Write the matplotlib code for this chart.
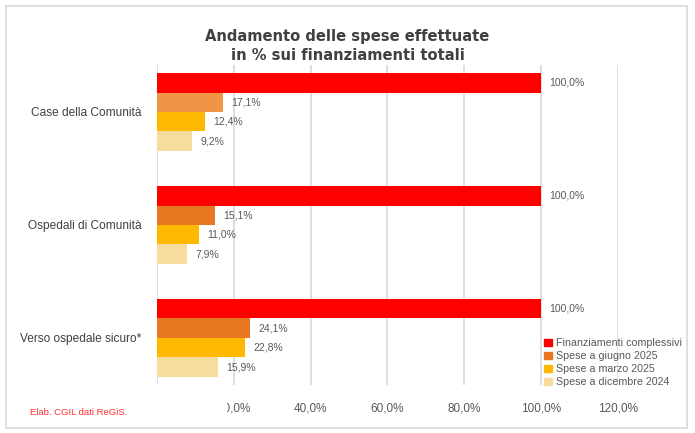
import matplotlib.pyplot as plt
import numpy as np
from matplotlib.patches import Rectangle

plt.rcParams['font.family'] = ['Liberation Sans', 'DejaVu Sans']

categories = ["Case della Comunità", "Ospedali di Comunità", "Verso ospedale sicuro*"]
series = ["Finanziamenti complessivi", "Spese a giugno 2025", "Spese a marzo 2025", "Spese a dicembre 2024"]
finanz = [100.0, 100.0, 100.0]
giugno = [17.1, 15.1, 24.1]
marzo = [12.4, 11.0, 22.8]
dicembre = [9.2, 7.9, 15.9]
xticks = [0, 20, 40, 60, 80, 100, 120]

colors = ["#FF0000", "#E87722", "#FFB900", "#F7DCA0"]
# the first group's June bar is a lighter orange in the original
giugno_colors = ["#F09446", "#E87722", "#E87722"]

fig = plt.figure(figsize=(6.95, 4.33), dpi=100)
fig.patches.append(Rectangle((0.008, 0.012), 0.98, 0.975, transform=fig.transFigure,
                             fill=False, edgecolor="#D9D9D9", linewidth=1.2))
ax = fig.add_axes([0.2259, 0.111, 0.663, 0.739])

y = np.arange(len(categories))
h = 0.172
vals = [finanz, giugno, marzo, dicembre]
for i, (name, v) in enumerate(zip(series, vals)):
    off = (i - 1.5) * h
    c = giugno_colors if i == 1 else colors[i]
    ax.barh(y + off, v, height=h, color=c, label=name, zorder=3)
    for yy, val in zip(y + off, v):
        ax.text(val + 2.2, yy, f"{val:.1f}%".replace(".", ","), va="center", ha="left",
                fontsize=7.5, color="#595959")

ax.set_ylim(2.416, -0.416)
ax.set_xlim(0, 120)
ax.set_xticks(xticks)
ax.set_xticklabels([f"{t:.1f}%".replace(".", ",") for t in xticks], fontsize=8.5, color="#595959")
ax.set_yticks(y)
ax.set_yticklabels(categories, fontsize=8.6, color="#404040")
ax.tick_params(length=0)
ax.tick_params(axis="x", pad=13)
ax.tick_params(axis="y", pad=11)
ax.grid(axis="x", color="#D9D9D9", linewidth=1.2, zorder=0)
for s in ax.spines.values():
    s.set_visible(False)

fig.text(0.5, 0.894, "Andamento delle spese effettuate\nin % sui finanziamenti totali",
         ha="center", va="center", fontsize=11.8, fontweight="bold", color="#404040",
         family="DejaVu Sans", fontstretch="condensed", linespacing=1.35)

handles = [Rectangle((0, 0), 1, 1, color=c) for c in colors]
fig.legend(handles, series, loc="lower left", bbox_to_anchor=(0.772, 0.088), frameon=False,
           fontsize=7.7, handlelength=0.7, handleheight=0.7, handletextpad=0.45,
           labelspacing=0.28, borderpad=0.2, labelcolor="#595959")

fig.patches.append(Rectangle((0.03, 0.02), 0.296, 0.06, transform=fig.transFigure,
                             facecolor="white", edgecolor="none", zorder=5))
fig.text(0.043, 0.048, "Elab. CGIL dati ReGiS.", fontsize=6.8, color="#FF3030",
         ha="left", va="center", zorder=6)

fig.savefig("out.png", dpi=100)
